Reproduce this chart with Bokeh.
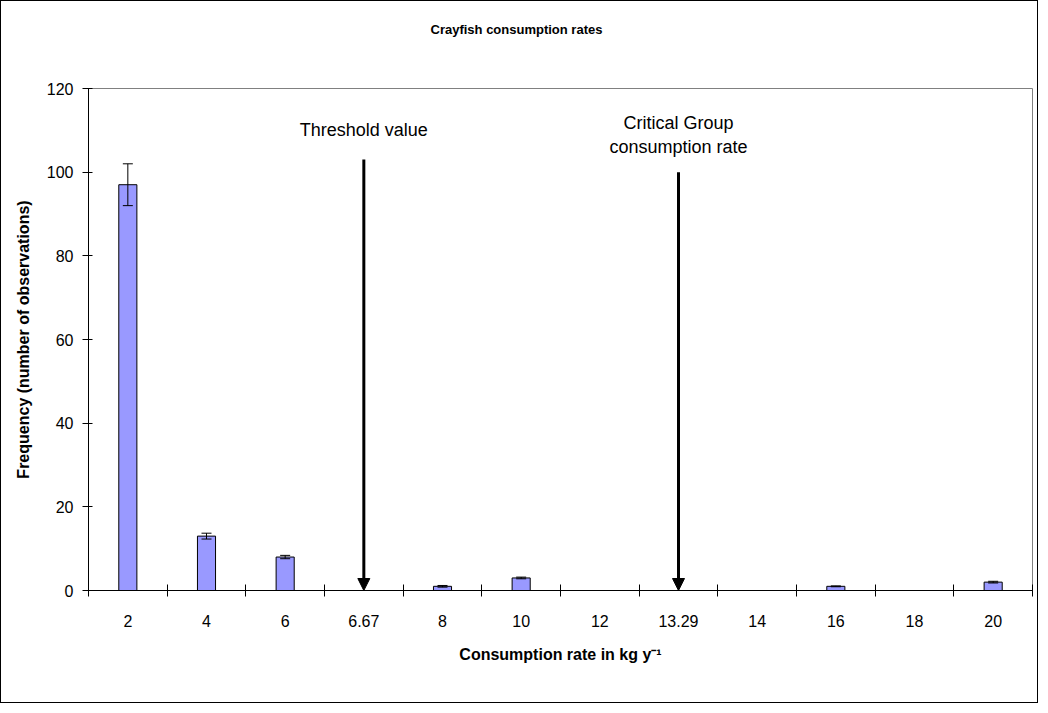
from bokeh.plotting import figure
from bokeh.models import (ColumnDataSource, FixedTicker, Whisker, TeeHead, Arrow,
                          NormalHead, Label, Range1d, Title)
from bokeh.embed import file_html
from bokeh.resources import INLINE

# ---- data ----
categories = ["2", "4", "6", "6.67", "8", "10", "12", "13.29", "14", "16", "18", "20"]
frequency = [97, 13, 8, None, 1, 3, 0, None, 0, 1, 0, 2]
freq_error = [5, 0.7, 0.4, None, 0.2, 0.2, 0, None, 0, 0.1, 0, 0.2]
y_ticks = [0, 20, 40, 60, 80, 100, 120]

threshold_category = "6.67"
threshold_arrow_top = 103
threshold_text = "Threshold value"
threshold_text_y = 110

critical_category = "13.29"
critical_arrow_top = 100
critical_text = "Critical Group\nconsumption rate"
critical_text_y = 109

title_text = "Crayfish consumption rates"
x_title = "Consumption rate in kg y\u207b\u00b9"
y_title = "Frequency (number of observations)"

FONT = "Liberation Sans"

n = len(categories)
centers = [i + 0.5 for i in range(n)]
bounds = [float(i) for i in range(n + 1)]

bar_x = [c for c, v in zip(centers, frequency) if v is not None]
bar_top = [v for v in frequency if v is not None]
err = [e for e, v in zip(freq_error, frequency) if v is not None]
bar_src = ColumnDataSource(dict(x=bar_x, top=bar_top,
                                upper=[t + e for t, e in zip(bar_top, err)],
                                lower=[t - e for t, e in zip(bar_top, err)]))

W, H = 1038, 703
p = figure(width=W, height=H, output_backend="svg", toolbar_location=None,
           x_range=Range1d(0, n), y_range=Range1d(0, 120),
           min_border_left=87, min_border_right=7, min_border_top=86,
           min_border_bottom=114)
p.styles = {"border": "1px solid black"}
p.background_fill_color = "white"
p.border_fill_color = "white"
p.outline_line_color = "#808080"
p.outline_line_width = 1
p.xgrid.visible = False
p.ygrid.visible = False

# chart title (top-aligned in the band above the plot area)
p.title = Title(text=title_text + "\n\n", align="left", offset=342, standoff=40,
                vertical_align="top", text_font=FONT, text_font_style="bold",
                text_font_size="13px", text_color="black", text_line_height=1.0)

p.vbar(x="x", top="top", width=0.23, bottom=0, source=bar_src,
       fill_color="#9999FF", line_color="black", line_width=1)

whisk = Whisker(base="x", upper="upper", lower="lower", source=bar_src,
                dimension="height", line_color="black", line_width=1,
                upper_head=TeeHead(size=10, line_color="black", line_width=1),
                lower_head=TeeHead(size=10, line_color="black", line_width=1))
whisk.level = "overlay"
p.add_layout(whisk)

# arrows
tx = categories.index(threshold_category) + 0.5
cx = categories.index(critical_category) + 0.5
for ax_, top in ((tx, threshold_arrow_top), (cx, critical_arrow_top)):
    p.add_layout(Arrow(x_start=ax_, y_start=top, x_end=ax_, y_end=0, line_width=3,
                       line_color="black",
                       end=NormalHead(size=12, fill_color="black", line_color="black")))

p.add_layout(Label(x=tx, y=threshold_text_y, text=threshold_text, text_align="center",
                   text_baseline="middle", text_font=FONT, text_font_size="18px",
                   text_color="black"))
p.add_layout(Label(x=cx, y=critical_text_y, text=critical_text, text_align="center",
                   text_baseline="middle", text_font=FONT, text_font_size="18px",
                   text_color="black", text_line_height=1.2))

# x axis
xa = p.xaxis[0]
xa.ticker = FixedTicker(ticks=centers, minor_ticks=bounds)
xa.major_label_overrides = {c: lab for c, lab in zip(centers, categories)}
xa.major_tick_line_color = None
xa.major_tick_in = 0
xa.major_tick_out = 0
xa.minor_tick_line_color = "black"
xa.minor_tick_in = 6
xa.minor_tick_out = 6
xa.major_label_standoff = 18
xa.major_label_text_font = FONT
xa.major_label_text_font_size = "16px"
xa.major_label_text_color = "black"
xa.axis_line_color = "black"
xa.axis_label = x_title
xa.axis_label_text_font = FONT
xa.axis_label_text_font_style = "bold"
xa.axis_label_text_font_size = "16px"
xa.axis_label_text_color = "black"
xa.axis_label_standoff = 16

ya = p.yaxis[0]
ya.ticker = FixedTicker(ticks=y_ticks)
ya.minor_tick_line_color = None
ya.major_tick_in = 4
ya.major_tick_out = 6
ya.major_tick_line_color = "black"
ya.major_label_standoff = 9
ya.major_label_text_font = FONT
ya.major_label_text_font_size = "16px"
ya.major_label_text_color = "black"
ya.axis_line_color = "black"
ya.axis_label = y_title
ya.axis_label_text_font = FONT
ya.axis_label_text_font_style = "bold"
ya.axis_label_text_font_size = "16px"
ya.axis_label_text_color = "black"
ya.axis_label_standoff = 12

open("out.html", "w").write(file_html(p, INLINE))
